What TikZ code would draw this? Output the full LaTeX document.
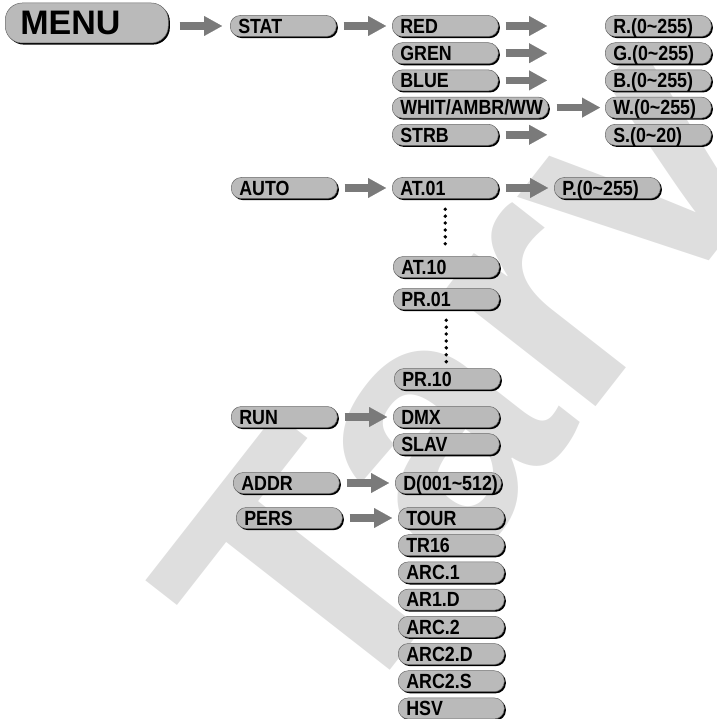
\documentclass[tikz,border=0pt]{standalone}
\usepackage{fontspec}
\setmainfont[FakeStretch=0.87]{Liberation Sans}
\newfontfamily\menufont{Liberation Sans}
\usetikzlibrary{positioning}
\usetikzlibrary{arrows.meta,shadows}

\definecolor{boxgray}{RGB}{186,186,186}
\definecolor{edgegray}{RGB}{105,105,105}
\definecolor{arrowgray}{RGB}{122,122,122}
\definecolor{markgray}{RGB}{222,222,222}

\tikzset{
  menubox/.style={rounded corners=10pt, fill=boxgray, draw=edgegray, line width=0.5pt,
    drop shadow={shadow xshift=1.6pt, shadow yshift=-1.6pt, fill=black, opacity=1},
    text width=#1, align=left, inner xsep=8pt, inner ysep=0pt,
    minimum height=21pt, text height=14.6pt, text depth=0pt,
    font=\fontsize{20.5}{21}\selectfont\bfseries, anchor=west},
  menubox/.default=90pt,
  nextbox/.style={below=5.7pt of #1.south west, anchor=north west},
  goarrow/.style={draw=arrowgray, line width=7.5pt, shorten <=7pt, shorten >=6pt,
    -{Triangle[length=18pt,width=20pt,line width=0.01pt]}},
  dotline/.style={line width=3.8pt, line cap=round, dash pattern=on 0pt off 6.9pt,
    shorten <=10.5pt, shorten >=6.5pt},
}

\begin{document}
\begin{tikzpicture}[x=1pt,y=1pt]
  \useasboundingbox (0,0) rectangle (716,-719);
  % watermark
  \node[text=markgray, rotate=52, font=\menufont\fontsize{360}{360}\selectfont\bfseries] (mark) at (468,-372) {Tarv};

  % main menu
  \node[menubox=133pt, inner xsep=15pt, minimum height=40pt, text height=24pt,
        rounded corners=17pt, font=\menufont\fontsize{34}{34}\selectfont\bfseries] (menu) at (5,-23) {MENU};

  % first level
  \node[menubox] (stat) at (230,-26) {STAT};
  \node[menubox] (auto) at (231,-188) {AUTO};
  \node[menubox] (run) at (231,-417) {RUN};
  \node[menubox] (addr) at (233,-483) {ADDR};
  \node[menubox] (pers) at (236,-518) {PERS};

  % static colours
  \node[menubox] (red) at (392,-26) {RED};
  \node[menubox, nextbox=red] (gren) {GREN};
  \node[menubox, nextbox=gren] (blue) {BLUE};
  \node[menubox=140pt, nextbox=blue] (whit) {WHIT/AMBR/WW};
  \node[menubox, nextbox=whit] (strb) {STRB};
  \node[menubox] (rval) at (605,-26) {R.(0\textasciitilde255)};
  \node[menubox, nextbox=rval] (gval) {G.(0\textasciitilde255)};
  \node[menubox, nextbox=gval] (bval) {B.(0\textasciitilde255)};
  \node[menubox, nextbox=bval] (wval) {W.(0\textasciitilde255)};
  \node[menubox, nextbox=wval] (sval) {S.(0\textasciitilde20)};

  % auto and programs
  \node[menubox] (at01) at (392,-188) {AT.01};
  \node[menubox] (pval) at (554,-188) {P.(0\textasciitilde255)};
  \node[menubox] (at10) at (393,-267) {AT.10};
  \node[menubox] (pr01) at (393,-299) {PR.01};
  \node[menubox] (pr10) at (394,-379) {PR.10};

  % run mode and address
  \node[menubox] (dmx) at (393,-417) {DMX};
  \node[menubox, nextbox=dmx] (slav) {SLAV};
  \node[menubox] (dadr) at (395,-483) {D(001\textasciitilde512)};

  % personalities
  \node[menubox] (tour) at (398,-518) {TOUR};
  \node[menubox, nextbox=tour] (tr16) {TR16};
  \node[menubox, nextbox=tr16] (arc1) {ARC.1};
  \node[menubox, nextbox=arc1] (ar1d) {AR1.D};
  \node[menubox, nextbox=ar1d] (arc2) {ARC.2};
  \node[menubox, nextbox=arc2] (arc2d) {ARC2.D};
  \node[menubox, nextbox=arc2d] (arc2s) {ARC2.S};
  \node[menubox, nextbox=arc2s] (hsv) {HSV};

  % arrows
  \draw[goarrow, shorten <=11pt, shorten >=8pt] (menu.east |- stat) -- (stat);
  \draw[goarrow] (stat) -- (red);
  \draw[goarrow, shorten >=58pt] (red) -- (rval);
  \draw[goarrow, shorten >=58pt] (gren) -- (gval);
  \draw[goarrow, shorten >=58pt] (blue) -- (bval);
  \draw[goarrow, shorten <=8pt, shorten >=5pt] (whit) -- (wval);
  \draw[goarrow, shorten >=58pt] (strb) -- (sval);
  \draw[goarrow] (auto) -- (at01);
  \draw[goarrow] (at01) -- (pval);
  \draw[goarrow] (run) -- (dmx);
  \draw[goarrow] (addr) -- (dadr);
  \draw[goarrow] (pers) -- (tour);

  % dots
  \draw[dotline] (at01) -- (at01 |- at10.north);
  \draw[dotline] (pr01) -- (pr01 |- pr10.north);
\end{tikzpicture}
\end{document}
